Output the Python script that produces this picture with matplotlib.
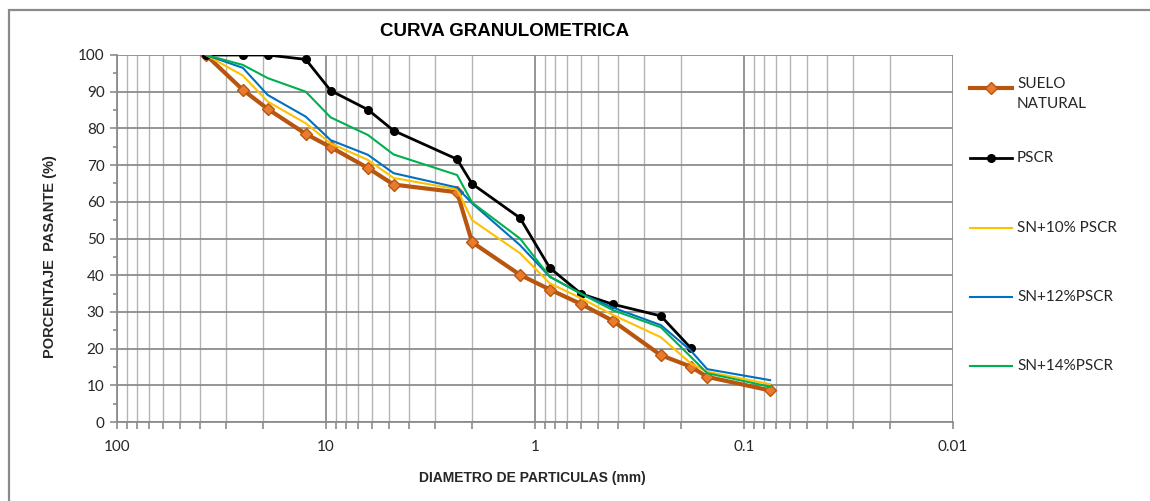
import matplotlib
matplotlib.use("Agg")
import matplotlib.pyplot as plt
import matplotlib.ticker as mticker
from matplotlib.lines import Line2D
from matplotlib.patches import Rectangle
import numpy as np

# sieve openings (mm) and percent passing for each mix
sieve = [37.5, 25, 19, 12.5, 9.5, 6.3, 4.75, 2.36, 2.0, 1.18, 0.85, 0.6, 0.425, 0.25, 0.18, 0.15, 0.075]
suelo = [100, 90.5, 85.3, 78.5, 74.9, 69.2, 64.7, 62.6, 49.0, 40.1, 36.1, 32.1, 27.6, 18.2, 15.1, 12.3, 8.6]
pscr = [100, 100, 100, 98.8, 90.3, 85.1, 79.4, 71.6, 64.9, 55.6, 42.0, 34.9, 32.1, 28.9, 20.2]
sn10 = [100, 94.4, 87.3, 81.4, 75.9, 71.4, 66.5, 63.4, 55.0, 46.0, 37.8, 33.7, 29.2, 23.1, 16.0, 13.7, 10.3]
sn12 = [100, 96.5, 89.1, 83.2, 76.8, 72.8, 67.8, 63.9, 59.6, 48.2, 39.6, 34.9, 31.2, 26.4, 19.5, 14.4, 11.4]
sn14 = [100, 97.3, 93.7, 90.0, 83.0, 78.2, 72.9, 67.3, 59.8, 50.0, 39.6, 34.9, 30.5, 25.8, 17.8, 13.3, 9.6]

labels = ["SUELO\nNATURAL", "PSCR", "SN+10% PSCR", "SN+12%PSCR", "SN+14%PSCR"]
x_ticks = [100, 10, 1, 0.1, 0.01]
x_ticklabels = ["100", "10", "1", "0.1", "0.01"]

BROWN = "#B8560F"
ORANGE = "#E97B2E"
YELLOW = "#FFC000"
BLUE = "#0070C0"
GREEN = "#00B050"
GRID = "#B4B4B4"
GRID_MAJOR = "#8C8C8C"
TEXT = "#262626"

TICK_FONT = "Lato"
HEAD_FONT = ["Liberation Sans", "DejaVu Sans"]

fig = plt.figure(figsize=(11.5, 5.01), dpi=100)
ax = fig.add_axes([117 / 1150, 1 - 422 / 501, (953 - 117) / 1150, (422 - 55) / 501])

# outer chart frame, only its left and top edges are inside the image
fig.patches.append(Rectangle((9 / 1150, -0.2), 1.2, 1.2 - 10 / 501, transform=fig.transFigure,
                             fill=False, edgecolor="#8A8A8A", linewidth=1.6, zorder=0))

ax.plot(sieve, suelo, color=BROWN, lw=3.0, marker="D", ms=6.5, mfc=ORANGE, mec=BROWN, mew=1.0, zorder=3)
ax.plot(sieve[:len(pscr)], pscr, color="black", lw=2.0, marker="o", ms=5.5, zorder=4)
ax.plot(sieve, sn10, color=YELLOW, lw=1.5, zorder=5)
ax.plot(sieve, sn12, color=BLUE, lw=1.5, zorder=6)
ax.plot(sieve, sn14, color=GREEN, lw=1.5, zorder=7)

ax.set_xscale("log")
ax.set_xlim(100, 0.01)
ax.set_ylim(0, 100)

ax.xaxis.set_major_locator(mticker.FixedLocator(x_ticks))
ax.xaxis.set_major_formatter(mticker.FixedFormatter(x_ticklabels))
ax.xaxis.set_minor_locator(mticker.LogLocator(base=10, subs=np.arange(2, 10)))
ax.xaxis.set_minor_formatter(mticker.NullFormatter())
ax.yaxis.set_major_locator(mticker.MultipleLocator(10))
ax.yaxis.set_minor_locator(mticker.MultipleLocator(5))

ax.grid(True, which="major", axis="both", color=GRID_MAJOR, lw=1.3)
ax.grid(True, which="minor", axis="x", color=GRID, lw=1.0)
ax.set_axisbelow(True)

for side in ("top", "right"):
    ax.spines[side].set_visible(False)
for side in ("left", "bottom"):
    ax.spines[side].set_color(GRID_MAJOR)
    ax.spines[side].set_linewidth(1.3)

ax.tick_params(axis="both", which="both", color=GRID_MAJOR, width=1.2, direction="out")
ax.tick_params(axis="x", which="major", length=5, pad=8)
ax.tick_params(axis="x", which="minor", length=5)
ax.tick_params(axis="y", which="major", length=5, pad=4)
ax.tick_params(axis="y", which="minor", length=3)
for lab in ax.get_xticklabels() + ax.get_yticklabels():
    lab.set_fontfamily(TICK_FONT)
    lab.set_fontsize(11)
    lab.set_color(TEXT)

fig.text(505 / 1150, 1 - 31 / 501, "CURVA GRANULOMETRICA", ha="center", va="center",
         fontsize=13.5, fontweight="bold", family=HEAD_FONT)
fig.text(532 / 1150, 1 - 478 / 501, "DIAMETRO DE PARTICULAS (mm)", ha="center", va="center",
         fontsize=10, fontweight="bold", family=HEAD_FONT, color=TEXT)
fig.text(50 / 1150, 1 - 257 / 501, "PORCENTAJE  PASANTE (%)", ha="center", va="center",
         rotation=90, fontsize=10.5, fontweight="bold", family=HEAD_FONT, color=TEXT)

# legend drawn by hand to keep the wide, uneven spacing between entries
legend_y = [88, 158, 228, 297, 366]
styles = [
    dict(color=BROWN, lw=3.0, marker="D", ms=6.5, mfc=ORANGE, mec=BROWN, mew=1.0),
    dict(color="black", lw=2.0, marker="o", ms=5.5),
    dict(color=YELLOW, lw=1.5),
    dict(color=BLUE, lw=1.5),
    dict(color=GREEN, lw=1.5),
]
for y, lab, st in zip(legend_y, labels, styles):
    yf = 1 - y / 501
    line_kw = {k: v for k, v in st.items() if k in ("color", "lw")}
    fig.lines.append(Line2D([970 / 1150, 1012 / 1150], [yf, yf], transform=fig.transFigure, **line_kw))
    if "marker" in st:
        mark_kw = {k: v for k, v in st.items() if k != "lw"}
        fig.lines.append(Line2D([991 / 1150], [yf], transform=fig.transFigure, linestyle="none", **mark_kw))
    if "\n" in lab:
        fig.text(1017 / 1150, yf + 11 / 501, lab, ha="left", va="top", fontsize=11,
                 family=TICK_FONT, color=TEXT, linespacing=1.5)
    else:
        fig.text(1017 / 1150, yf, lab, ha="left", va="center", fontsize=11,
                 family=TICK_FONT, color=TEXT)

fig.savefig("out.png", dpi=100)
